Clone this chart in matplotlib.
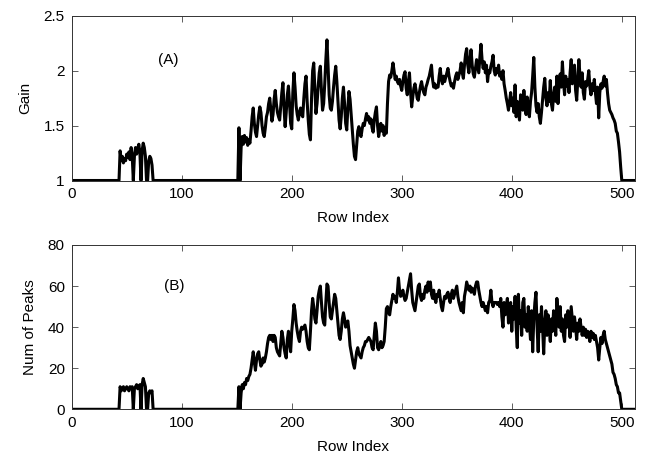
import matplotlib
matplotlib.use("Agg")
import matplotlib.pyplot as plt
import numpy as np

plt.rcParams['font.family'] = ['Liberation Sans', 'DejaVu Sans']

# ---- data (one value per row index 0..511) ----
gain = (
    [1.0] * 44 +
    [1.27, 1.18, 1.22, 1.16, 1.20, 1.18, 1.24, 1.21, 1.26, 1.19, 1.30, 1.22,   # 44-55
     1.0, 1.22, 1.30, 1.24, 1.29, 1.33, 1.25, 1.0,                             # 56-63
     1.27, 1.34, 1.30, 1.22, 1.0, 1.0, 1.18, 1.22, 1.20, 1.14] +               # 64-73
    [1.0] * 78 +                                                               # 74-151
    [1.48, 1.0, 1.30, 1.40, 1.33, 1.41, 1.35, 1.39,                            # 152-159
     1.32, 1.37, 1.34, 1.45, 1.58, 1.66, 1.52, 1.44, 1.40, 1.50,               # 160-169
     1.60, 1.67, 1.62, 1.50, 1.43, 1.40, 1.48, 1.58, 1.62, 1.70,               # 170-179
     1.75, 1.65, 1.54, 1.60, 1.74, 1.82, 1.70, 1.62, 1.58, 1.55,               # 180-189
     1.68, 1.80, 1.89, 1.66, 1.49, 1.62, 1.78, 1.86, 1.70, 1.52,               # 190-199
     1.47, 1.80, 1.98, 1.85, 1.68, 1.60, 1.55, 1.62, 1.66, 1.60,               # 200-209
     1.58, 1.75, 1.88, 1.95, 1.72, 1.55, 1.42, 1.37, 1.75, 2.00,               # 210-219
     2.07, 1.85, 1.61, 1.70, 1.85, 1.98, 2.04, 1.82, 1.64, 1.70,               # 220-229
     1.88, 2.10, 2.28, 2.05, 1.78, 1.66, 1.64, 1.72, 1.85, 1.96,               # 230-239
     2.04, 1.90, 1.72, 1.55, 1.47, 1.58, 1.75, 1.85, 1.70, 1.52,               # 240-249
     1.46, 1.66, 1.81, 1.74, 1.60, 1.45, 1.33, 1.22, 1.19, 1.32,               # 250-259
     1.45, 1.49, 1.42, 1.40, 1.47, 1.52, 1.50, 1.56, 1.61, 1.55,               # 260-269
     1.58, 1.52, 1.56, 1.48, 1.44, 1.55, 1.62, 1.67, 1.50, 1.40,               # 270-279
     1.46, 1.52, 1.45, 1.50, 1.41, 1.48, 1.43, 1.70, 1.90, 1.96,               # 280-289
     1.94, 2.00, 2.07, 2.00, 1.92, 1.95, 1.90, 1.88, 1.92, 1.86,               # 290-299
     1.82, 1.90, 1.96, 1.99, 1.84, 1.78, 1.90, 1.98, 1.80, 1.67,               # 300-309
     1.76, 1.84, 1.88, 1.82, 1.75, 1.73, 1.80, 1.86, 1.90, 1.84,               # 310-319
     1.80, 1.78, 1.85, 1.88, 1.92, 1.95, 2.00, 2.05, 1.92, 1.85,               # 320-329
     1.88, 1.84, 1.86, 1.85, 1.95, 2.02, 1.92, 1.88, 1.95, 1.90,               # 330-339
     1.94, 1.98, 2.02, 1.95, 1.90, 1.86, 1.88, 1.84, 1.90, 1.95,               # 340-349
     1.98, 1.92, 1.96, 2.00, 2.07, 1.98, 1.93, 2.05, 2.15, 2.20,               # 350-359
     2.05, 1.98, 2.10, 2.19, 2.05, 1.97, 1.94, 2.02, 2.10, 2.04,               # 360-369
     1.98, 2.12, 2.24, 2.10, 2.02, 2.08, 1.98, 2.05, 1.90, 2.00,               # 370-379
     1.98, 2.04, 2.08, 2.14, 2.00, 1.96, 2.02, 1.98, 2.05, 1.95,               # 380-389
     1.98, 1.92, 2.00, 1.88, 1.82, 1.75, 1.70, 1.64, 1.72, 1.80,               # 390-399
     1.68, 1.75, 1.62, 1.87, 1.58, 1.72, 1.66, 1.55, 1.78, 1.70,               # 400-409
     1.64, 1.82, 1.68, 1.60, 1.76, 1.65, 1.58, 1.72, 1.80, 1.95,               # 410-419
     2.12, 1.85, 1.68, 1.62, 1.70, 1.58, 1.52, 1.62, 1.74, 1.85,               # 420-429
     1.93, 1.75, 1.68, 1.80, 1.72, 1.91, 1.70, 1.64, 1.78, 1.85,               # 430-439
     1.72, 1.95, 1.70, 1.88, 1.97, 1.85, 2.08, 1.90, 1.78, 1.95,               # 440-449
     1.86, 1.92, 1.80, 1.98, 2.10, 1.88, 1.95, 2.05, 1.82, 1.73,               # 450-459
     1.92, 2.10, 1.95, 1.85, 1.98, 1.80, 1.74, 1.90, 1.86, 1.92,               # 460-469
     2.00, 1.85, 1.78, 1.88, 1.82, 1.92, 1.80, 1.70, 1.85, 1.57,               # 470-479
     1.80, 1.88, 1.84, 1.90, 1.95, 1.86, 1.92, 1.80, 1.70, 1.64,               # 480-489
     1.62, 1.60, 1.57, 1.55, 1.52, 1.45, 1.43, 1.35, 1.26, 1.12] +             # 490-499
    [1.0] * 12                                                                 # 500-511
)

peaks = (
    [0] * 44 +
    [11, 9, 10, 11, 9, 10, 11, 10, 9, 11, 10, 11,                               # 44-55
     0, 10, 11, 12, 10, 11, 12, 0,                                              # 56-63
     12, 15, 13, 11, 0, 0, 8, 9, 8, 9] +                                        # 64-73
    [0] * 78 +                                                                  # 74-151
    [11, 0, 8, 12, 10, 13, 12, 15,                                              # 152-159
     14, 16, 17, 20, 24, 28, 23, 19, 24, 27,                                    # 160-169
     28, 24, 21, 22, 25, 23, 25, 28, 32, 35,                                    # 170-179
     36, 34, 36, 33, 36, 35, 30, 28, 27, 26,                                    # 180-189
     32, 38, 35, 30, 27, 25, 34, 38, 32, 28,                                    # 190-199
     38, 44, 51, 48, 42, 38, 35, 33, 38, 40,                                    # 200-209
     39, 40, 41, 38, 33, 30, 29, 38, 48, 54,                                    # 210-219
     50, 44, 42, 48, 55, 58, 60, 52, 45, 42,                                    # 220-229
     41, 52, 61, 60, 52, 45, 44, 48, 52, 56,                                    # 230-239
     54, 48, 42, 36, 34, 38, 44, 47, 44, 40,                                    # 240-249
     42, 43, 38, 31, 28, 25, 22, 20, 24, 28,                                    # 250-259
     30, 27, 26, 25, 28, 30, 31, 33, 33, 34,                                    # 260-269
     35, 34, 33, 30, 29, 36, 42, 38, 30, 29,                                    # 270-279
     31, 33, 30, 31, 33, 40, 49, 50, 47, 46,                                    # 280-289
     50, 53, 56, 54, 55, 52, 57, 64, 58, 55,                                    # 290-299
     56, 58, 55, 53, 54, 57, 60, 63, 66, 58,                                    # 300-309
     52, 50, 48, 52, 56, 60, 61, 55, 53, 56,                                    # 310-319
     54, 58, 60, 57, 62, 58, 62, 56, 54, 58,                                    # 320-329
     54, 52, 56, 55, 58, 54, 50, 48, 52, 55,                                    # 330-339
     54, 56, 57, 54, 52, 56, 58, 54, 56, 58,                                    # 340-349
     60, 55, 52, 50, 48, 52, 47, 55, 58, 62,                                    # 350-359
     60, 58, 60, 57, 59, 58, 56, 60, 62, 62,                                    # 360-369
     58, 55, 52, 50, 52, 50, 48, 50, 47, 52,                                    # 370-379
     53, 58, 52, 50, 52, 52, 52, 51, 52, 50,                                    # 380-389
     54, 45, 40, 52, 46, 50, 54, 42, 48, 52,                                    # 390-399
     38, 50, 44, 55, 40, 30, 56, 42, 48, 36,                                    # 400-409
     52, 54, 40, 46, 38, 50, 42, 34, 48, 28,                                    # 410-419
     44, 52, 57, 40, 28, 46, 38, 50, 40, 27,                                    # 420-429
     42, 48, 36, 46, 40, 33, 44, 38, 48, 42,                                    # 430-439
     36, 54, 46, 40, 50, 38, 44, 36, 33, 46,                                    # 440-449
     40, 48, 42, 35, 50, 44, 38, 45, 40, 34,                                    # 450-459
     42, 38, 44, 40, 36, 40, 36, 39, 35, 38,                                    # 460-469
     36, 33, 38, 35, 37, 34, 36, 33, 30, 24,                                    # 470-479
     30, 35, 32, 36, 38, 34, 32, 30, 28, 26,                                    # 480-489
     24, 22, 18, 17, 15, 12, 11, 8, 8, 4] +                                     # 490-499
    [0] * 12                                                                    # 500-511
)

rows = np.arange(len(gain))
xticks = [0, 100, 200, 300, 400, 500]
gain_ticks = [1, 1.5, 2, 2.5]
gain_ticklabels = ['1', '1.5', '2', '2.5']
peak_ticks = [0, 20, 40, 60, 80]

W, H = 649, 459
fig = plt.figure(figsize=(W / 100, H / 100), dpi=100)

def px_axes(left, top, right, bottom):
    return fig.add_axes([left / W, 1 - bottom / H, (right - left) / W, (bottom - top) / H])

ax1 = px_axes(71.7, 15.7, 635, 180.5)
ax2 = px_axes(71.7, 245, 635, 409.3)

ax1.plot(rows, gain, color='black', lw=2.2, solid_joinstyle='round')
ax2.plot(np.arange(len(peaks)), peaks, color='black', lw=2.2, solid_joinstyle='round')

ax1.set_xlim(0, 512)
ax1.set_ylim(1, 2.5)
ax1.set_yticks(gain_ticks)
ax1.set_yticklabels(gain_ticklabels)
ax2.set_xlim(0, 512)
ax2.set_ylim(0, 80)
ax2.set_yticks(peak_ticks)

for ax in (ax1, ax2):
    ax.set_xticks(xticks)
    ax.tick_params(direction='in', top=True, right=True, length=4, width=0.6,
                   color='#444444', labelsize=11, pad=5)
    for sp in ax.spines.values():
        sp.set_linewidth(0.7)
        sp.set_color('#333333')
    ax.set_xlabel('Row Index', fontsize=11, labelpad=7)

ax1.set_ylabel('Gain', fontsize=11, labelpad=8)
ax2.set_ylabel('Num of Peaks', fontsize=11, labelpad=8)

ax1.text(88, 2.1, '(A)', fontsize=11, ha='center', va='center')
ax2.text(93, 60, '(B)', fontsize=11, ha='center', va='center')

fig.savefig('out.png', dpi=100)
